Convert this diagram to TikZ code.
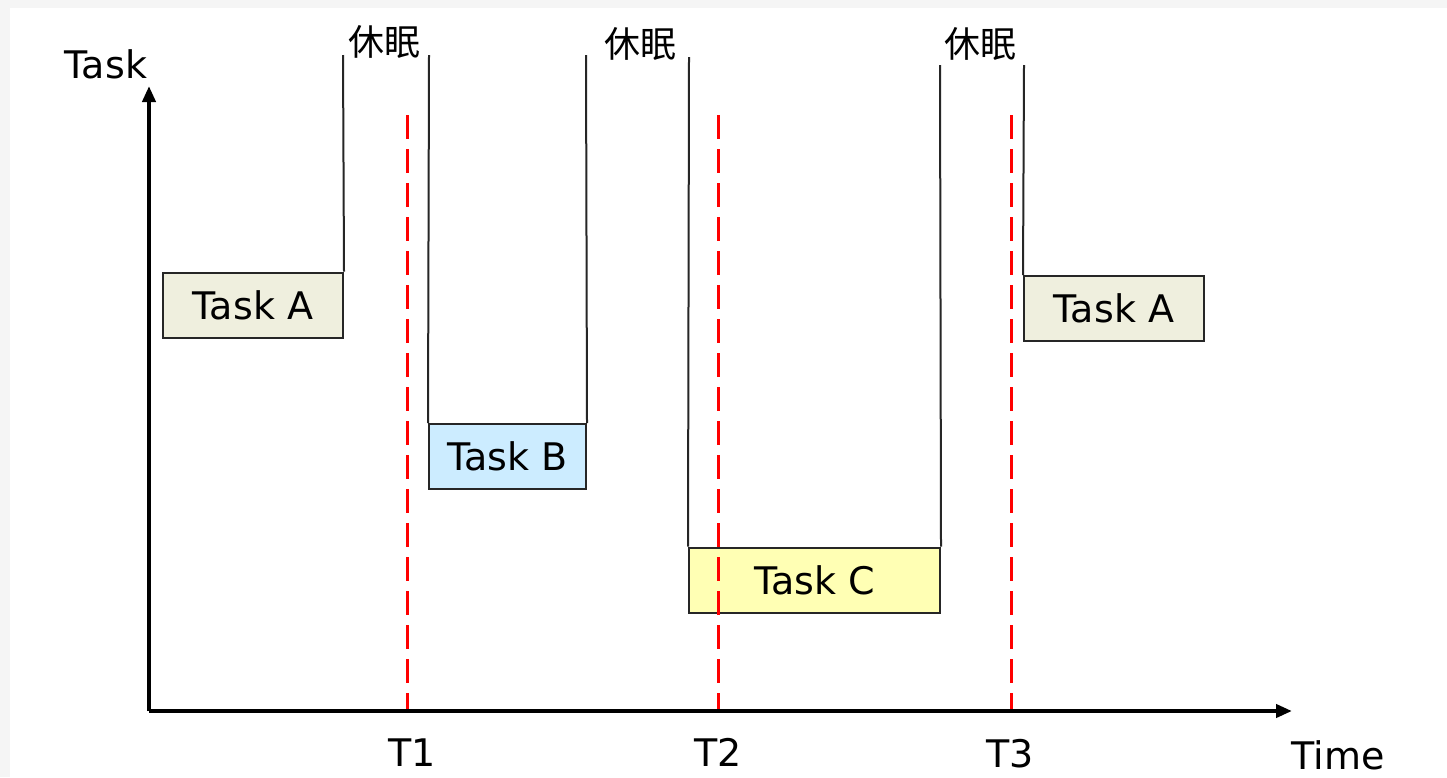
\documentclass[tikz,border=0pt]{standalone}
\usepackage{fontspec}
\setmainfont{DejaVu Sans}
\newfontfamily\cjk{Noto Sans CJK SC}
\usetikzlibrary{arrows.meta}

\begin{document}
\begin{tikzpicture}[x=1pt, y=-1pt,
  every node/.style={font=\fontsize{38}{44}\selectfont, inner sep=0pt},
  taskbox/.style={draw=black!85, line width=2pt, minimum width=#1, minimum height=65pt},
  sleeplabel/.style={font=\fontsize{36}{42}\selectfont\cjk},
  axis/.style={line width=4pt, -{Triangle[length=16pt,width=13pt]}},
  deadline/.style={red, line width=3pt, dash pattern=on 24pt off 10pt},
  wire/.style={draw=black!85, line width=2pt}]
\fill[black!4] (0,0) rectangle (1447,777);
\fill[white] (10,8) rectangle (1447,777);
\useasboundingbox (0,0) rectangle (1447,777);

\coordinate (o) at (149,711);
\coordinate (ytop) at (149,86);
\coordinate (xend) at (1292,711);
\node (ylab) at (106,64) {Task};
\node (xlab) at (1338,755) {Time};

\node[taskbox=180pt, fill={rgb,255:red,239;green,239;blue,222}] (ta1) at (253,305) {Task A};
\node[taskbox=157pt, fill={rgb,255:red,204;green,236;blue,255}] (tb) at (507.5,456.5) {Task B};
\node[taskbox=251pt, fill={rgb,255:red,255;green,255;blue,180}] (tc) at (814.5,580) {Task C};
\node[taskbox=180pt, fill={rgb,255:red,239;green,239;blue,222}] (ta2) at (1114,308.5) {Task A};

\node[sleeplabel] (z1) at (384,42) {休眠};
\node[sleeplabel] (z2) at (640,44) {休眠};
\node[sleeplabel] (z3) at (980,44) {休眠};
\coordinate (z1a) at (343,55);
\coordinate (z1b) at (429,55);
\coordinate (z2a) at (586,55);
\coordinate (z2b) at (689,57);
\coordinate (z3a) at (940,65);
\coordinate (z3b) at (1024,65);

\draw[wire] (ta1.north east) -- (z1a);
\draw[wire] (z1b) -- (tb.north west);
\draw[wire] (tb.north east) -- (z2a);
\draw[wire] (z2b) -- (tc.north west);
\draw[wire] (tc.north east) -- (z3a);
\draw[wire] (z3b) -- (ta2.north west);

\coordinate (m1) at (407,115);
\coordinate (m2) at (718,115);
\coordinate (m3) at (1011,115);
\draw[deadline] (m1) -- (m1 |- o);
\draw[deadline] (m2) -- (m2 |- o);
\draw[deadline] (m3) -- (m3 |- o);
\node (t1) at (412,753) {T1};
\node (t2) at (718,752) {T2};
\node (t3) at (1010,754) {T3};

\draw[axis] (o) -- (ytop);
\draw[axis] (o) -- (xend);
\end{tikzpicture}
\end{document}
